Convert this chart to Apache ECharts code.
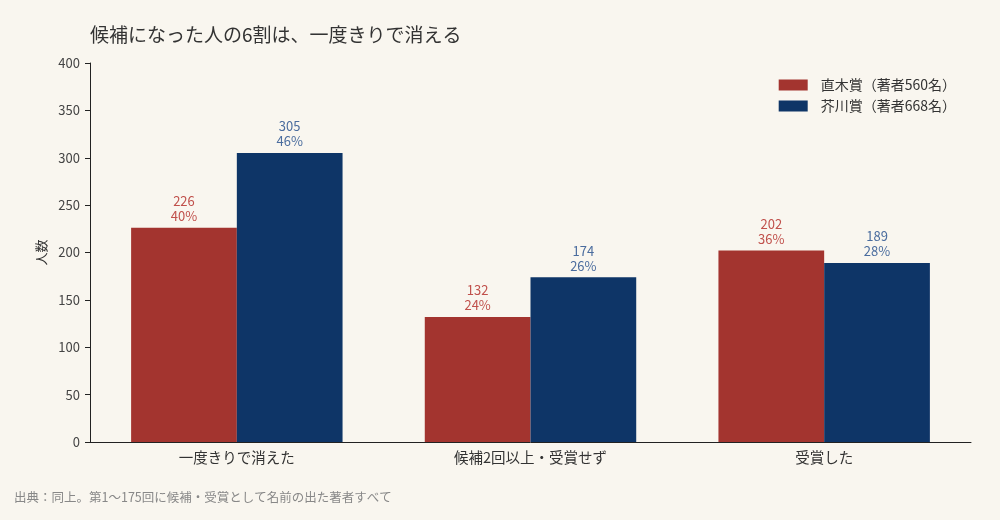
<!DOCTYPE html>
<html>
<head>
<meta charset="utf-8">
<script src="https://cdn.jsdelivr.net/npm/echarts@6/dist/echarts.min.js"></script>
<style>
  html, body { margin: 0; padding: 0; background: #f9f6ef; }
  #main { width: 1000px; height: 520px; }
</style>
</head>
<body>
<div id="main"></div>
<script>
// 区分
var categories = ['一度きりで消えた', '候補2回以上・受賞せず', '受賞した'];
var seriesNames = ['直木賞（著者560名）', '芥川賞（著者668名）'];
// 人数
var naokiCounts = [226, 132, 202];
var akutagawaCounts = [305, 174, 189];
// 割合(%)
var naokiPct = [40, 24, 36];
var akutagawaPct = [46, 26, 28];
var yTicks = [0, 50, 100, 150, 200, 250, 300, 350, 400];

var FONT = '"Noto Sans CJK JP", "Noto Sans", sans-serif';

function makeLabel(pcts, color) {
    return {
        show: true,
        position: 'top',
        distance: 4,
        color: color,
        fontSize: 13,
        lineHeight: 15,
        fontFamily: FONT,
        formatter: function (p) {
            return p.value + '\n' + pcts[p.dataIndex] + '%';
        }
    };
}

var chart = echarts.init(document.getElementById('main'));
chart.setOption({
    backgroundColor: '#f9f6ef',
    textStyle: { fontFamily: FONT },
    title: {
        text: '候補になった人の6割は、一度きりで消える',
        left: 85,
        top: 20,
        textStyle: { fontSize: 19, fontWeight: 'normal', color: '#333', fontFamily: FONT }
    },
    graphic: [{
        type: 'text',
        left: 14,
        top: 491,
        style: {
            text: '出典：同上。第1～175回に候補・受賞として名前の出た著者すべて',
            fill: '#888',
            fontSize: 12.5,
            fontFamily: FONT
        }
    }],
    legend: {
        orient: 'vertical',
        right: 39,
        top: 73,
        itemWidth: 29,
        itemHeight: 11,
        itemGap: 7,
        icon: 'rect',
        textStyle: { fontSize: 14, color: '#333', fontFamily: FONT, padding: [0, 0, 0, 8] },
        data: seriesNames
    },
    grid: { left: 90, right: 29, top: 63, bottom: 78, containLabel: false },
    xAxis: {
        type: 'category',
        data: categories,
        axisLine: { lineStyle: { color: '#222', width: 1 } },
        axisTick: { alignWithLabel: true, length: 4, lineStyle: { color: '#222' } },
        axisLabel: { fontSize: 14.5, color: '#333', margin: 8, fontFamily: FONT }
    },
    yAxis: {
        type: 'value',
        min: 0,
        max: 400,
        interval: 50,
        name: '人数',
        nameLocation: 'middle',
        nameGap: 37,
        nameTextStyle: { fontSize: 13, color: '#333', fontFamily: FONT },
        splitLine: { show: false },
        axisLine: { show: true, lineStyle: { color: '#222', width: 1 } },
        axisTick: { show: true, length: 5, lineStyle: { color: '#222' } },
        axisLabel: {
            fontSize: 13, color: '#444', margin: 10, fontFamily: FONT,
            formatter: function (v) { return yTicks.indexOf(v) >= 0 ? String(v) : ''; }
        }
    },
    series: [{
        name: seriesNames[0],
        type: 'bar',
        data: naokiCounts,
        barGap: '0%',
        barCategoryGap: '28%',
        itemStyle: { color: '#a3342f' },
        label: makeLabel(naokiPct, '#c0504b')
    }, {
        name: seriesNames[1],
        type: 'bar',
        data: akutagawaCounts,
        barGap: '0%',
        barCategoryGap: '28%',
        itemStyle: { color: '#0e3567' },
        label: makeLabel(akutagawaPct, '#4a6c9e')
    }]
});
</script>
</body>
</html>
